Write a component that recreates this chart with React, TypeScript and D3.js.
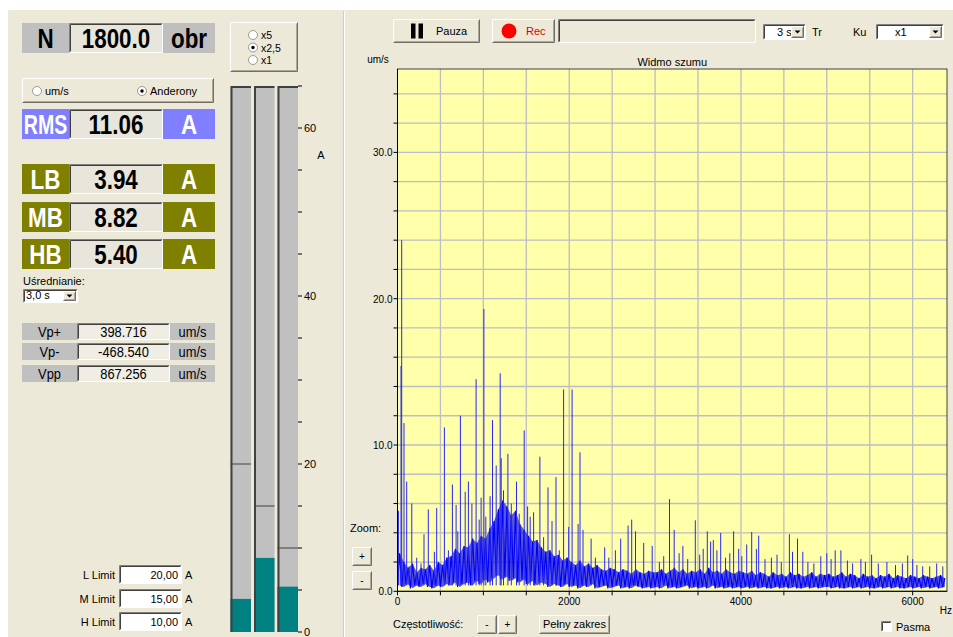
import React from 'react';
import * as d3 from 'd3';

// ---------- DATA ----------
const rpmValue = '1800.0';
const rmsValue = '11.06';
const bandLabels = ['LB', 'MB', 'HB'];
const bandValues = [3.94, 8.82, 5.4];
const bandLimits = [20, 15, 10];
const limitLabels = ['L Limit', 'M Limit', 'H Limit'];
const limitTexts = ['20,00', '15,00', '10,00'];
const vpLabels = ['Vp+', 'Vp-', 'Vpp'];
const vpValues = ['398.716', '-468.540', '867.256'];
const barTickLabels = [0, 20, 40, 60];
const scaleOptions = ['x5', 'x2,5', 'x1'];
const xTickLabels = [0, 2000, 4000, 6000];
const yTickLabels = [0, 10, 20, 30];

// noise band (per 50 Hz bin, starting at 0 Hz): upper and lower extent of dense noise
const noiseTop = [
  2.6, 2.0, 1.6, 1.9, 1.3, 1.6, 1.5, 1.8, 1.4, 2.0, 1.8, 2.3, 2.4, 2.9, 2.6, 3.1, 3.0, 3.6, 3.3, 3.8,
  3.6, 4.3, 4.8, 5.6, 6.2, 5.8, 5.2, 5.5, 4.6, 4.2, 3.8, 3.4, 3.5, 3.0, 2.7, 2.8, 2.4, 2.5, 2.1, 2.3,
  2.0, 1.8, 2.1, 1.7, 1.9, 1.6, 1.8, 1.5, 1.4, 1.6, 1.5, 1.3, 1.5, 1.4, 1.2, 1.5, 1.3, 1.2, 1.4, 1.3,
  1.3, 1.5, 1.2, 1.4, 1.6, 1.3, 1.5, 1.2, 1.4, 1.3, 1.5, 1.2, 1.6, 1.3, 1.4, 1.2, 1.5, 1.3, 1.2, 1.4,
  1.3, 1.2, 1.4, 1.1, 1.3, 1.2, 1.0, 1.3, 1.1, 1.2, 1.0, 1.3, 1.1, 1.2, 1.0, 1.1, 1.3, 1.0, 1.2, 1.1,
  1.2, 1.0, 1.1, 1.3, 1.0, 1.2, 1.1, 0.9, 1.2, 1.0, 1.1, 0.9, 1.1, 1.0, 1.2, 0.9, 1.1, 1.0, 0.9, 1.1,
  1.0, 0.9, 1.1, 1.0, 0.9, 1.0, 1.1, 0.9,
];
const noiseBottom = [
  0.4, 0.3, 0.5, 0.2, 0.4, 0.3, 0.5, 0.3, 0.2, 0.4, 0.3, 0.5, 0.4, 0.6, 0.3, 0.5, 0.6, 0.4, 0.7, 0.5,
  0.8, 0.6, 0.9, 1.1, 0.8, 1.0, 0.7, 0.9, 0.6, 0.8, 0.5, 0.7, 0.4, 0.6, 0.5, 0.3, 0.5, 0.4, 0.3, 0.5,
  0.3, 0.4, 0.2, 0.4, 0.3, 0.5, 0.2, 0.3, 0.4, 0.2, 0.3, 0.4, 0.2, 0.3, 0.2, 0.4, 0.3, 0.2, 0.3, 0.2,
  0.3, 0.2, 0.4, 0.2, 0.3, 0.2, 0.3, 0.4, 0.2, 0.3, 0.2, 0.3, 0.2, 0.4, 0.2, 0.3, 0.2, 0.3, 0.2, 0.3,
  0.2, 0.3, 0.2, 0.3, 0.2, 0.3, 0.2, 0.2, 0.3, 0.2, 0.3, 0.2, 0.3, 0.2, 0.2, 0.3, 0.2, 0.3, 0.2, 0.3,
  0.3, 0.2, 0.3, 0.2, 0.2, 0.3, 0.2, 0.3, 0.2, 0.3, 0.2, 0.2, 0.3, 0.2, 0.3, 0.2, 0.3, 0.2, 0.2, 0.3,
  0.2, 0.3, 0.2, 0.3, 0.2, 0.3, 0.2, 0.3,
];
// distinct spectral lines [Hz, um/s]
const peakFreqs = [
  10, 41, 49, 76, 107, 134, 166, 224, 274, 309, 359, 430, 457, 546, 593, 640, 683, 702, 733, 788,
  826, 866, 916, 951, 974, 1006, 1029, 1079, 1106, 1150, 1196, 1208, 1235, 1286, 1325, 1386, 1418, 1476, 1515, 1546,
  1585, 1659, 1702, 1753, 1800, 1846, 1885, 1935, 1994, 2033, 2103, 2126, 2161, 2255, 2305, 2413, 2461, 2538, 2600, 2686,
  2728, 2772, 2868, 2966, 3050, 3100, 3168, 3223, 3280, 3324, 3380, 3468, 3520, 3560, 3608, 3647, 3678, 3720, 3764, 3820,
  3870, 3915, 3974, 4010, 4067, 4125, 4180, 4207, 4280, 4355, 4420, 4470, 4565, 4600, 4659, 4721, 4780, 4850, 4930, 5000,
  5050, 5098, 5164, 5240, 5300, 5397, 5450, 5522, 5600, 5700, 5800, 5880, 5942, 6000, 6050, 6117, 6199, 6280, 6351,
];
const peakAmps = [
  5.5, 15.4, 24.0, 11.5, 7.5, 1.7, 6.0, 2.3, 1.9, 3.9, 5.6, 2.7, 5.7, 11.2, 2.8, 7.3, 5.9, 4.1, 12.0, 6.8,
  7.5, 6.0, 14.5, 4.9, 6.4, 19.3, 5.1, 6.5, 11.7, 8.6, 14.9, 9.1, 6.9, 9.4, 6.0, 7.5, 5.3, 11.0, 5.8, 5.1,
  5.4, 9.2, 3.7, 7.1, 4.8, 7.8, 2.8, 13.8, 4.4, 13.8, 4.6, 9.5, 4.2, 3.6, 2.3, 3.0, 2.3, 2.8, 3.6, 4.5,
  4.9, 4.1, 3.3, 3.1, 2.0, 2.4, 6.3, 4.2, 2.6, 3.1, 2.2, 4.85, 2.5, 2.9, 4.1, 3.4, 3.5, 2.8, 4.0, 2.3,
  2.6, 4.1, 2.9, 2.4, 3.2, 4.05, 2.9, 3.8, 2.2, 2.3, 2.5, 2.0, 3.9, 2.7, 3.6, 2.7, 2.0, 1.9, 2.4, 2.6,
  2.2, 2.8, 2.8, 2.1, 1.9, 2.2, 2.0, 2.5, 1.9, 2.0, 1.8, 1.9, 2.45, 2.2, 1.8, 1.7, 1.7, 1.9, 1.7,
];
const BIN_HZ = 50;
const FREQ_MAX = 6400;
const AMP_MAX = 35.7;

// ---------- STYLE ----------
const UI = "'Liberation Sans', Arial, sans-serif";
const BG = '#ECE9D8';
const OLIVE = '#808000';
const LAV = '#7F7FFF';
const GRAY = '#BFBFBF';

const T = ({ x, y, children, size = 11, anchor = 'start', fill = '#000', weight = 'normal', sx = 1 }: any) => (
  <text
    transform={`translate(${x},${y}) scale(${sx},1)`}
    fontSize={size}
    textAnchor={anchor}
    fill={fill}
    fontWeight={weight}
    fontFamily={UI}
  >
    {children}
  </text>
);

const Raised = ({ x, y, w, h, fill = BG }: any) => (
  <g>
    <rect x={x} y={y} width={w} height={h} fill={fill} />
    <path d={`M${x + 0.5},${y + h - 0.5}V${y + 0.5}H${x + w - 0.5}`} stroke="#fff" fill="none" />
    <path d={`M${x + 0.5},${y + h - 0.5}H${x + w - 0.5}V${y + 0.5}`} stroke="#716F64" fill="none" />
    <path d={`M${x + 1.5},${y + h - 1.5}H${x + w - 1.5}V${y + 1.5}`} stroke="#ACA899" fill="none" />
  </g>
);

const Sunken = ({ x, y, w, h, fill = '#fff' }: any) => (
  <g>
    <rect x={x} y={y} width={w} height={h} fill={fill} />
    <path d={`M${x + 0.5},${y + h - 0.5}V${y + 0.5}H${x + w - 0.5}`} stroke="#7F7F7F" fill="none" />
    <path d={`M${x + 1.5},${y + h - 1.5}V${y + 1.5}H${x + w - 1.5}`} stroke="#404040" fill="none" />
    <path d={`M${x + 0.5},${y + h - 0.5}H${x + w - 0.5}V${y + 0.5}`} stroke="#fff" fill="none" />
  </g>
);

const Radio = ({ cx, cy, on }: any) => (
  <g>
    <circle cx={cx} cy={cy} r={4.5} fill="#fff" stroke="#9C9A8E" />
    {on && <circle cx={cx} cy={cy} r={1.7} fill="#000" />}
  </g>
);

const Arrow = ({ x, y, w, h }: any) => (
  <g>
    <Raised x={x} y={y} w={w} h={h} />
    <path d={`M${x + w / 2 - 3},${y + h / 2 - 1.5}h6l-3,3z`} fill="#000" />
  </g>
);

const Combo = ({ x, y, w, h, text, textX }: any) => (
  <g>
    <Sunken x={x} y={y} w={w} h={h} />
    <T x={textX} y={y + h - 4}>{text}</T>
    <Arrow x={x + w - 15} y={y + 2} w={13} h={h - 4} />
  </g>
);

// info row with coloured label/unit boxes (big bold condensed)
const BigRow = ({ y, label, value, unit, color, labelColor, labelSx }: any) => (
  <g>
    <rect x={22} y={y} width={47} height={30} fill={color} />
    <Sunken x={69} y={y} w={94} h={30} fill="#E8E5DA" />
    <rect x={163} y={y} width={52} height={30} fill={color} />
    <T x={45.5} y={y + 25} size={28} weight="bold" anchor="middle" fill={labelColor} sx={labelSx}>{label}</T>
    <T x={116} y={y + 25} size={28} weight="bold" anchor="middle" sx={0.8}>{value}</T>
    <T x={189} y={y + 25} size={28} weight="bold" anchor="middle" fill={labelColor} sx={0.8}>{unit}</T>
  </g>
);

export default function App() {
  // spectrum scales
  const x = d3.scaleLinear().domain([0, FREQ_MAX]).range([397.5, 947]);
  const y = d3.scaleLinear().domain([0, AMP_MAX]).range([591.3, 69]);
  const [px0, px1] = x.range();
  const [py0, py1] = y.range();

  // bar meter scale
  const by = d3.scaleLinear().domain([0, 60]).range([632, 128]);
  const barX = [230.5, 254, 277.5];
  const barW = 20.5;

  // noise band: filled extent plus a zig-zag line between lower and upper values
  const bins = noiseTop.map((t, i) => ({ f: i * BIN_HZ, lo: noiseBottom[i], hi: t }));
  const areaGen = d3
    .area<{ f: number; lo: number; hi: number }>()
    .x((d) => x(d.f + BIN_HZ / 2))
    .y0((d) => y(d.lo))
    .y1((d) => y(d.hi));
  const noiseArea = areaGen(bins) || '';
  const zig: [number, number][] = [];
  bins.forEach((b) => {
    zig.push([b.f, b.lo]);
    zig.push([b.f + BIN_HZ / 2, b.hi]);
  });
  const line = d3.line<[number, number]>().x((d) => x(d[0])).y((d) => y(d[1]));
  const noisePath = line(zig) || '';
  const peakPath = peakFreqs
    .map((f, i) => `M${x(f).toFixed(1)},${y(0.4).toFixed(1)}L${x(f).toFixed(1)},${y(peakAmps[i]).toFixed(1)}`)
    .join('');

  const vGrid = d3.range(500, FREQ_MAX, 500);
  const hGrid = d3.range(2, AMP_MAX, 2);
  const xMinor = d3.range(0, FREQ_MAX, 500);
  const barMinor = d3.range(0, 66, 5);

  return (
    <svg width={953} height={637} style={{ position: 'absolute', left: 0, top: 0 }} fontFamily={UI}>
      <rect width={953} height={637} fill="#fff" />
      <rect x={8} y={10} width={945} height={627} fill={BG} />
      {/* left panel separator */}
      <line x1={343.5} x2={343.5} y1={11} y2={637} stroke="#D0CDBF" />
      <line x1={344.5} x2={344.5} y1={11} y2={637} stroke="#fff" />

      {/* ---------- LEFT PANEL ---------- */}
      <BigRow y={23} label="N" value={rpmValue} unit="obr" color={GRAY} labelColor="#000" labelSx={0.8} />
      <Raised x={22} y={78} w={192} h={25} />
      <Radio cx={37} cy={91} on={false} />
      <T x={45} y={95}>um/s</T>
      <Radio cx={142} cy={91} on={true} />
      <T x={150} y={95}>Anderony</T>
      <BigRow y={109} label="RMS" value={rmsValue} unit="A" color={LAV} labelColor="#fff" labelSx={0.7} />
      {bandLabels.map((b, i) => (
        <BigRow
          key={b}
          y={[164, 202, 239][i]}
          label={b}
          value={bandValues[i].toFixed(2)}
          unit="A"
          color={OLIVE}
          labelColor="#fff"
          labelSx={0.8}
        />
      ))}
      <T x={23} y={285}>Uśrednianie:</T>
      <Combo x={23} y={289} w={55} h={14} text="3,0 s" textX={26} />

      {vpLabels.map((l, i) => {
        const yy = [323, 343, 365][i];
        return (
          <g key={l}>
            <rect x={22} y={yy} width={55} height={17} fill="#C0C0C0" />
            <Sunken x={77} y={yy} w={93} h={17} fill="#EFEDE4" />
            <rect x={170} y={yy} width={45} height={17} fill="#C0C0C0" />
            <T x={49.5} y={yy + 14} size={14} anchor="middle" sx={0.92}>{l}</T>
            <T x={123.5} y={yy + 14} size={14} anchor="middle" sx={0.92}>{vpValues[i]}</T>
            <T x={192.5} y={yy + 14} size={14} anchor="middle" sx={0.92}>um/s</T>
          </g>
        );
      })}

      {limitLabels.map((l, i) => {
        const yy = [565, 589, 612][i];
        return (
          <g key={l}>
            <T x={115} y={yy + 14} anchor="end">{l}</T>
            <Sunken x={119} y={yy} w={63} h={19} />
            <T x={178} y={yy + 14} anchor="end">{limitTexts[i]}</T>
            <T x={185} y={yy + 14}>A</T>
          </g>
        );
      })}

      {/* scale radio group */}
      <Raised x={230} y={22} w={68} h={50} />
      {scaleOptions.map((s, i) => (
        <g key={s}>
          <Radio cx={253} cy={35 + i * 12.5} on={i === 1} />
          <T x={261} y={39 + i * 12.5} size={10.5}>{s}</T>
        </g>
      ))}

      {/* bar meters */}
      {bandValues.map((v, i) => (
        <g key={i}>
          <rect x={barX[i]} y={by(65)} width={barW} height={by(0) - by(65)} fill="#C0C0C0" />
          <rect x={barX[i]} y={by(v)} width={barW} height={by(0) - by(v)} fill="#008080" />
          <line x1={barX[i]} x2={barX[i] + barW} y1={by(bandLimits[i])} y2={by(bandLimits[i])} stroke="#808080" strokeWidth={2} />
          <path d={`M${barX[i] + 1},${by(0)}V${by(65) + 1}H${barX[i] + barW}`} stroke="#404040" strokeWidth={2} fill="none" />
        </g>
      ))}
      {barMinor.map((t) => (
        <line key={t} x1={298} x2={302} y1={by(t)} y2={by(t)} stroke="#000" />
      ))}
      {barTickLabels.map((t) => (
        <T key={t} x={304} y={by(t) + 4} size={11}>{t}</T>
      ))}
      <T x={321} y={159} size={11} anchor="middle">A</T>

      {/* ---------- CHART TOOLBAR ---------- */}
      <Raised x={393} y={19} w={87} h={24} />
      <rect x={411} y={23.5} width={4.5} height={15} fill="#000" />
      <rect x={418.5} y={23.5} width={4.5} height={15} fill="#000" />
      <T x={436} y={35}>Pauza</T>
      <Raised x={492} y={19} w={63} h={24} />
      <circle cx={509} cy={31} r={7.5} fill="#FF0000" />
      <T x={526} y={35} fill="#E00000">Rec</T>
      <Sunken x={558} y={19} w={198} h={24} fill={BG} />
      <Combo x={763} y={24} w={43} h={16} text="3 s" textX={777} />
      <T x={812} y={36}>Tr</T>
      <T x={853} y={36}>Ku</T>
      <Combo x={876} y={24} w={68} h={16} text="x1" textX={895} />

      {/* ---------- SPECTRUM ---------- */}
      <T x={378} y={63} size={10} anchor="middle">um/s</T>
      <T x={(px0 + px1) / 2} y={66} anchor="middle">Widmo szumu</T>
      <rect x={px0} y={py1} width={px1 - px0} height={py0 - py1} fill="#FFFFAA" />
      {vGrid.map((f) => (
        <line key={f} x1={x(f)} x2={x(f)} y1={py1} y2={py0} stroke="#BDBDC4" strokeWidth={1.3} />
      ))}
      {hGrid.map((a) => (
        <line key={a} x1={px0} x2={px1} y1={y(a)} y2={y(a)} stroke="#BDBDC4" strokeWidth={1.3} />
      ))}
      <defs>
        <clipPath id="plotclip">
          <rect x={px0} y={py1} width={px1 - px0} height={py0 - py1} />
        </clipPath>
      </defs>
      <g clipPath="url(#plotclip)">
        <path d={noiseArea} fill="#0000F0" fillOpacity={0.65} stroke="none" />
        <path d={noisePath} fill="none" stroke="#0000F5" strokeWidth={1.2} />
        <path d={peakPath} fill="none" stroke="#2828F5" strokeWidth={1} />
      </g>
      <rect x={px0} y={py1} width={px1 - px0} height={py0 - py1} fill="none" stroke="#404040" />
      <line x1={px0} x2={px0} y1={py1} y2={py0} stroke="#000" />
      <line x1={px0} x2={px1} y1={py0} y2={py0} stroke="#000" />
      {/* y axis */}
      {d3.range(0, AMP_MAX, 2).map((a) => (
        <line key={a} x1={px0 - 4} x2={px0} y1={y(a)} y2={y(a)} stroke="#000" />
      ))}
      {yTickLabels.map((a) => (
        <T key={a} x={px0 - 5} y={y(a) + 4} size={10} anchor="end">{a.toFixed(1)}</T>
      ))}
      {/* x axis */}
      {xMinor.map((f) => (
        <line key={f} x1={x(f)} x2={x(f)} y1={py0} y2={py0 + 4} stroke="#000" />
      ))}
      {xTickLabels.map((f) => (
        <T key={f} x={x(f)} y={py0 + 14} size={10} anchor="middle">{f}</T>
      ))}
      <T x={952} y={614} size={10} anchor="end">Hz</T>

      {/* zoom controls */}
      <T x={350} y={532}>Zoom:</T>
      <Raised x={352} y={547} w={20} h={19} />
      <T x={362} y={560} anchor="middle" size={10}>+</T>
      <Raised x={352} y={571} w={20} h={19} />
      <T x={362} y={584} anchor="middle" size={10}>-</T>

      {/* frequency controls */}
      <T x={393} y={628}>Częstotliwość:</T>
      <Raised x={477} y={615} w={20} h={19} />
      <T x={487} y={628} anchor="middle" size={10}>-</T>
      <Raised x={498} y={615} w={19} h={19} />
      <T x={507.5} y={628} anchor="middle" size={10}>+</T>
      <Raised x={539} y={615} w={71} h={19} />
      <T x={574.5} y={628} anchor="middle">Pełny zakres</T>
      <Sunken x={881} y={621} w={11} h={11} />
      <T x={896} y={631}>Pasma</T>
    </svg>
  );
}
